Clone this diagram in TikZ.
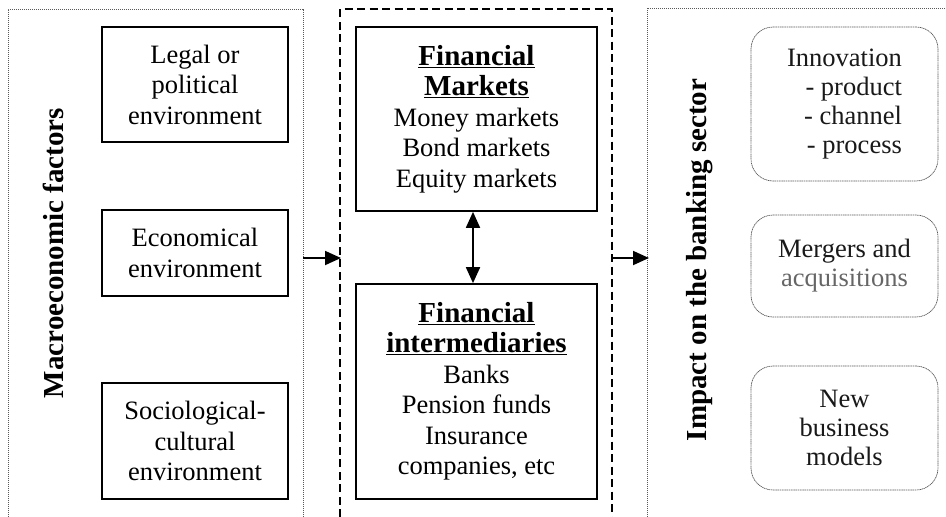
\documentclass[tikz,border=0pt]{standalone}
\usepackage{fontspec}
\setmainfont{Liberation Serif}
\usetikzlibrary{arrows.meta}
\newcommand{\hdline}[1]{{\bfseries\fontsize{29}{32}\selectfont\underline{#1}}}
\begin{document}
\begin{tikzpicture}[x=1pt,y=-1pt,
  frame/.style={draw=black!65, line width=0.7pt, dash pattern=on 1.2pt off 0.8pt},
  midframe/.style={draw=black, line width=1.5pt, dash pattern=on 8pt off 4.5pt},
  solidbox/.style={draw=black, line width=1.7pt, align=center, inner sep=0pt,
    font=\fontsize{26.5}{30.5}\selectfont},
  roundbox/.style={draw=black!65, line width=0.7pt, dash pattern=on 1.2pt off 0.6pt,
    rounded corners=22pt, inner sep=0pt, text=black!90,
    font=\fontsize{26.5}{29}\selectfont},
  sidelabel/.style={rotate=90, font=\bfseries\fontsize{29}{32}\selectfont},
  tip/.tip={Triangle[length=16pt,width=14pt]},
  arr/.style={line width=1.8pt, -tip},
  darr/.style={line width=1.8pt, tip-tip}
]
\useasboundingbox (0,0) rectangle (946,517);
% frames
\draw[frame] (8,517) -- (8,9) -- (303,9) -- (303,517);
\draw[midframe] (340,517) -- (340,9) -- (612,9) -- (612,517);
\draw[frame] (647,517) -- (647,8) -- (946,8);

% side labels
\node[sidelabel] (macro) at (53,253) {Macroeconomic factors};
\node[sidelabel] (impact) at (700,260) {Impact on the banking sector};

% left boxes
\node[solidbox, minimum width=186, minimum height=115] (legal) at (195,84.5)
  {Legal or\\political\\environment};
\node[solidbox, minimum width=186, minimum height=86] (econ) at (195,253)
  {Economical\\environment};
\node[solidbox, minimum width=186, minimum height=116] (socio) at (195,441)
  {Sociological-\\cultural\\environment};

% middle boxes
\node[solidbox, minimum width=241, minimum height=184] (mk) at (476.5,119)
  {\hdline{Financial}\\\hdline{Markets}\\Money markets\\Bond markets\\Equity markets};
\node[solidbox, minimum width=241, minimum height=215] (fi) at (476.5,391.5)
  {\hdline{Financial}\\\hdline{intermediaries}\\Banks\\Pension funds\\Insurance\\companies, etc};

% right boxes
\node[roundbox, minimum width=187, minimum height=154, align=right] (inno) at (844.5,104)
  {Innovation\\- product\\- channel\\- process};
\node[roundbox, minimum width=187, minimum height=102, align=center] (merg) at (844.5,266)
  {Mergers and\\\textcolor{black!60}{acquisitions}};
\node[roundbox, minimum width=187, minimum height=124, align=center] (newb) at (844.5,428)
  {New\\business\\models};

% connectors
\coordinate (l1) at (303,258);
\coordinate (l2) at (341,258);
\coordinate (r1) at (612,258);
\coordinate (r2) at (649,258);
\draw[arr] (l1) -- (l2);
\draw[arr] (r1) -- (r2);
\draw[darr] ([xshift=-3.5pt]mk.south) -- ([xshift=-3.5pt]fi.north);
\end{tikzpicture}
\end{document}
